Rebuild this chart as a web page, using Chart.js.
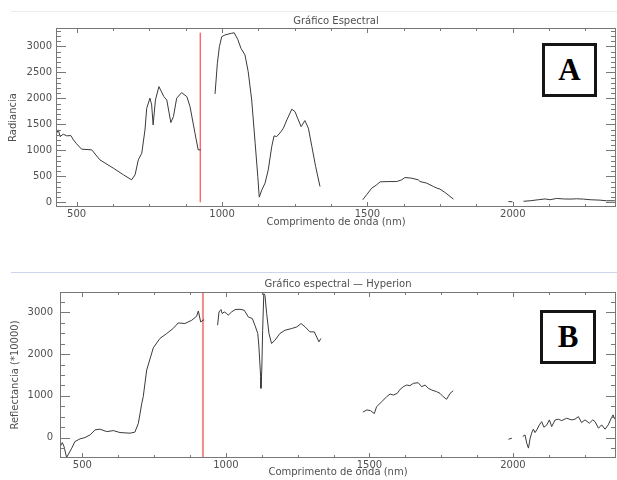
<!DOCTYPE html>
<html>
<head>
<meta charset="utf-8">
<script src="https://cdn.jsdelivr.net/npm/chart.js@4.4.0/dist/chart.umd.min.js"></script>
<style>
body{margin:0;background:#fff;width:617px;height:480px;overflow:hidden;position:relative;font-family:"DejaVu Sans",sans-serif}
.wrap{position:absolute;left:0;width:617px}
.rule{position:absolute;left:11px;width:606px;height:1px}
.tag{position:absolute;box-sizing:border-box;border:3px solid #151515;background:#fff;font:bold 31px "Liberation Serif",serif;text-align:center;color:#000}
</style>
</head>
<body>
<div class="rule" style="top:11px;background:#ececec"></div>
<div class="rule" style="top:272px;background:#cdd5ec"></div>
<div class="wrap" style="top:0;height:240px"><canvas id="chartA" width="617" height="240"></canvas></div>
<div class="wrap" style="top:250px;height:230px"><canvas id="chartB" width="617" height="230"></canvas></div>
<div class="tag" style="left:542px;top:43px;width:55px;height:54px;line-height:48px">A</div>
<div class="tag" style="left:540px;top:310px;width:56px;height:54px;line-height:48px">B</div>
<script>
// Grafico Espectral (radiancia) - null = gap between bands
var waveA = [431,437,443,454,466,480,489,500,517,552,580,626,661,689,701,712,724,735,741,752,758,763,771,783,800,810,824,833,844,861,879,890,907,918,927,
  950,
  976,984,991,999,1010,1033,1042,1054,1065,1079,1090,1102,1114,1123,1128,1137,1148,1159,1171,1179,1188,1203,1211,1223,1240,1251,1260,1272,1285,1297,1309,1322,1337,
  1400,
  1484,1498,1515,1532,1544,1578,1601,1618,1629,1652,1675,1681,1704,1727,1739,1750,1767,1796,
  1900,
  1985,1999,
  2015,
  2037,2060,2088,2111,2128,2151,2174,2197,2220,2243,2266,2300,2322,2351];
var radA = [1330,1394,1265,1311,1279,1285,1202,1125,1023,1010,817,658,529,433,529,817,946,1394,1811,2004,1875,1490,1971,2227,2034,1971,1535,1650,2004,2111,2034,1842,1331,1010,1010,
  null,
  2087,2677,2996,3188,3221,3254,3262,3138,2965,2836,2515,1971,1138,496,100,240,369,625,1073,1279,1265,1361,1427,1587,1792,1746,1619,1458,1573,1427,1073,688,304,
  null,
  50,150,273,337,395,400,400,433,477,465,433,400,369,304,273,254,189,62,
  null,
  15,10,
  null,
  20,30,50,65,50,75,65,62,68,62,50,42,30,30];

// Grafico espectral - Hyperion (reflectancia *10000)
var waveB = [424,430,436,445,463,474,492,509,527,544,561,585,608,631,666,683,695,707,712,724,747,770,794,817,834,857,881,898,904,912,924,
  945,
  971,976,983,987,994,1003,1008,1020,1032,1049,1064,1078,1092,1101,1111,1115,1121,1122,1125,1128,1132,1136,1142,1150,1159,1171,1188,1206,1229,1247,1262,1276,1293,1308,1324,1331,
  1400,
  1477,1491,1504,1517,1525,1543,1560,1572,1583,1597,1607,1618,1630,1641,1653,1670,1682,1694,1705,1717,1734,1746,1757,1769,1781,1792,
  1900,
  1984,1996,
  2015,
  2034,2042,2048,2054,2060,2065,2071,2077,2083,2092,2100,2108,2118,2127,2135,2147,2158,2170,2187,2205,2216,2228,2239,2251,2266,2278,2286,2298,2309,2321,2332,2344,2349,2353,2358];
var reflB = [-200,-120,-215,-478,-253,-96,-31,0,65,184,201,143,167,120,105,130,344,822,980,1618,2150,2376,2495,2620,2749,2734,2813,2909,3035,2772,2830,
  null,
  2694,3012,3069,2973,3012,2973,2933,3012,3069,3076,3052,2892,2854,2694,2495,2175,1458,1181,1618,2574,3451,3410,2973,2495,2256,2335,2495,2574,2614,2653,2734,2653,2534,2534,2295,2376,
  null,
  610,662,645,575,741,860,980,1044,1020,1060,1157,1219,1260,1243,1300,1315,1219,1260,1181,1140,1100,1060,980,918,1060,1123,
  null,
  -40,-15,
  null,
  24,65,-134,-253,-14,105,201,120,184,304,382,248,304,423,263,423,440,407,463,423,440,502,359,423,344,423,382,225,304,201,304,487,543,463,423];

var xTickLabels = [500, 1000, 1500, 2000];
var yTicksA = [0, 500, 1000, 1500, 2000, 2500, 3000];
var yTicksB = [0, 1000, 2000, 3000];
var markerA = {nm: 925, y: [0, 3265]};
var markerB = {nm: 920, y: [-490, 3490]};

var txt = '#505050';
var fnt = {family: 'DejaVu Sans', size: 10, weight: 'normal', lineHeight: 1.2};

// box + inward ticks like IDL
function framePlugin(xStep, xMajor, yStep, yMajor) {
  return {
    id: 'frame',
    afterDraw: function(chart) {
      var a = chart.chartArea, ctx = chart.ctx;
      var xs = chart.scales.x, ys = chart.scales.y;
      ctx.save();
      ctx.strokeStyle = '#777';
      ctx.lineWidth = 1;
      ctx.strokeRect(Math.round(a.left) + 0.5, Math.round(a.top) + 0.5, Math.round(a.right - a.left) - 1, Math.round(a.bottom - a.top) - 1);
      ctx.beginPath();
      var v, p, len;
      for (v = Math.ceil(xs.min / xStep) * xStep; v <= xs.max; v += xStep) {
        p = Math.round(xs.getPixelForValue(v)) + 0.5;
        len = (v % xMajor === 0) ? 5 : 3;
        ctx.moveTo(p, a.bottom); ctx.lineTo(p, a.bottom - len);
        ctx.moveTo(p, a.top); ctx.lineTo(p, a.top + len);
      }
      for (v = Math.ceil(ys.min / yStep) * yStep; v <= ys.max; v += yStep) {
        p = Math.round(ys.getPixelForValue(v)) + 0.5;
        len = (v % yMajor === 0) ? 10 : 5;
        ctx.moveTo(a.left, p); ctx.lineTo(a.left + len, p);
        ctx.moveTo(a.right, p); ctx.lineTo(a.right - len, p);
      }
      ctx.stroke();
      ctx.restore();
    }
  };
}

function makeChart(id, o) {
  var pts = o.wave.map(function(w, i) { return {x: w, y: o.vals[i]}; });
  return new Chart(document.getElementById(id), {
    type: 'line',
    data: {
      datasets: [
        {data: pts, borderColor: '#3a3a3a', borderWidth: 1, pointRadius: 0, tension: 0, spanGaps: false},
        {data: [{x: o.marker.nm, y: o.marker.y[0]}, {x: o.marker.nm, y: o.marker.y[1]}],
         borderColor: o.markColor, borderWidth: o.markWidth, pointRadius: 0}
      ]
    },
    options: {
      responsive: false,
      animation: false,
      layout: {padding: {left: 0, right: 1, top: 0, bottom: 0}},
      plugins: {
        legend: {display: false},
        tooltip: {enabled: false},
        title: {display: true, text: o.title, fullSize: false, color: txt, font: fnt,
                padding: {top: o.titlePad[0], bottom: o.titlePad[1]}}
      },
      scales: {
        x: {
          type: 'linear', min: o.xRange[0], max: o.xRange[1],
          grid: {display: false, drawTicks: false}, border: {display: false},
          afterBuildTicks: function(s) { s.ticks = xTickLabels.map(function(v) { return {value: v}; }); },
          afterFit: function(s) { s.height = o.xAxisH; },
          ticks: {color: txt, font: fnt, padding: o.xLabelPad, maxRotation: 0, autoSkip: false,
                  callback: function(v) { return String(v); }},
          title: {display: true, text: 'Comprimento de onda (nm)', color: txt, font: fnt,
                  padding: {top: 0, bottom: o.xTitlePad}}
        },
        y: {
          type: 'linear', min: o.yRange[0], max: o.yRange[1],
          grid: {display: false, drawTicks: false}, border: {display: false},
          afterBuildTicks: function(s) { s.ticks = o.yTicks.map(function(v) { return {value: v}; }); },
          afterFit: function(s) { s.width = o.yAxisW; },
          ticks: {color: txt, font: fnt, padding: o.yLabelPad, autoSkip: false,
                  callback: function(v) { return String(v); }},
          title: {display: true, text: o.yTitle, color: txt, font: fnt,
                  padding: {top: o.yTitlePad, bottom: 0}}
        }
      }
    },
    plugins: [framePlugin(125, 500, o.yStep, o.yMajor)]
  });
}

makeChart('chartA', {
  wave: waveA, vals: radA, marker: markerA, markColor: '#ff2a2a', markWidth: 1,
  title: 'Gráfico Espectral', titlePad: [15, 1],
  xRange: [429, 2355], yRange: [-90, 3355], yTicks: yTicksA,
  xAxisH: 33, xLabelPad: 1, xTitlePad: 12, yAxisW: 56, yLabelPad: 4,
  yTitle: 'Radiancia', yTitlePad: 7, yStep: 100, yMajor: 500
});

makeChart('chartB', {
  wave: waveB, vals: reflB, marker: markerB, markColor: '#f48b8b', markWidth: 2,
  title: 'Gráfico espectral — Hyperion', titlePad: [28, 2],
  xRange: [422, 2359], yRange: [-490, 3490], yTicks: yTicksB,
  xAxisH: 22, xLabelPad: 1, xTitlePad: 2, yAxisW: 60, yLabelPad: 7,
  yTitle: 'Reflectancia (*10000)', yTitlePad: 9, yStep: 250, yMajor: 1000
});
</script>
</body>
</html>
